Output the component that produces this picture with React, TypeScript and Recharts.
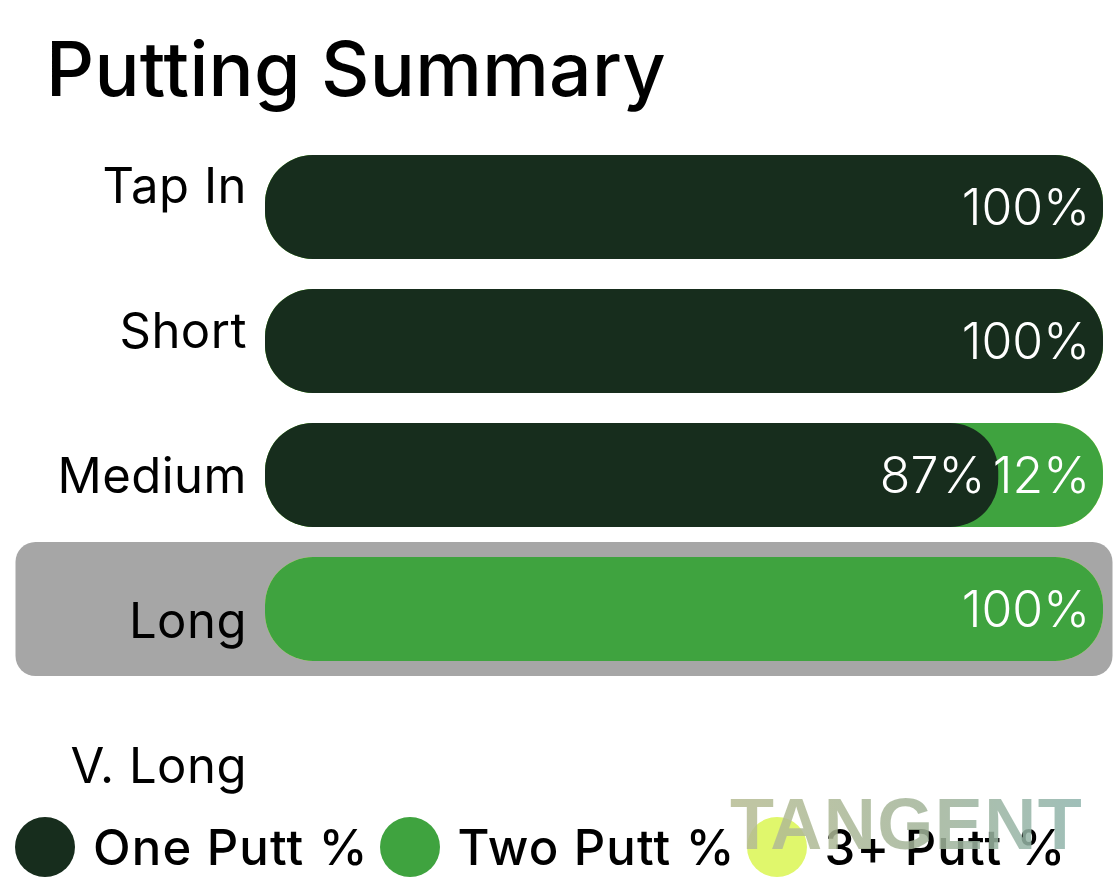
import React from 'react';
import {
    BarChart,
    Bar,
    XAxis,
    YAxis,
    Tooltip,
    LabelList
} from 'recharts';

const categories = ['Tap In', 'Short', 'Medium', 'Long', 'V. Long'];
const onePutt = [100, 100, 87.5, 0, 0];
const twoPutt = [0, 0, 12.5, 100, 0];
const threePutt = [0, 0, 0, 0, 0];

const seriesNames = ['One Putt %', 'Two Putt %', '3+ Putt %'];
const seriesColors = ['#172d1d', '#3fa33f', '#e0f76c'];

// bars overlap from zero, so each later segment is drawn as a running total behind the earlier one
const data = categories.map((name, i) => ({
    name,
    one: onePutt[i],
    two: twoPutt[i],
    three: threePutt[i],
    twoCum: onePutt[i] + twoPutt[i],
    threeCum: onePutt[i] + twoPutt[i] + threePutt[i]
}));

const font = 'Inter, "Noto Sans", sans-serif';

const pct = (v: any) => (Number(v) > 0 ? `${Math.floor(Number(v))}%` : '');

const labelStyle = { fill: '#ffffff', fontSize: 50, fontWeight: 300, fontFamily: font };

// selected row highlight, stretched out to cover the category label too
const HighlightCursor = (props: any) => {
    const { x, y, width, height } = props;
    if (x == null || y == null) return null;
    return <rect x={x - 250} y={y} width={width + 260} height={height} rx={20} ry={20} fill="#a6a6a6" />;
};

const App = () => {
    return (
        <div style={{ position: 'absolute', left: 0, top: 0, width: 1119, height: 886, background: '#fff', fontFamily: font }}>
            <div style={{ position: 'absolute', left: 46, top: 31, fontSize: 75, lineHeight: 1, fontWeight: 500, letterSpacing: 0.3, color: '#000' }}>
                Putting Summary
            </div>

            <BarChart
                width={1119}
                height={886}
                data={data}
                layout="vertical"
                margin={{ top: 113.5, right: 16, left: 0, bottom: 47.5 }}
                barSize={104}
                barGap={-104}
                style={{ position: 'absolute', left: 0, top: 0 }}
            >
                <XAxis type="number" domain={[0, 100]} hide />
                <YAxis type="category" dataKey="name" hide width={0} padding={{ top: 26.5, bottom: 28.5 }} />
                <YAxis
                    yAxisId="labels"
                    type="category"
                    dataKey="name"
                    width={265}
                    axisLine={false}
                    tickLine={false}
                    tickMargin={12}
                    tick={{ fill: '#000', fontSize: 49, fontFamily: font, letterSpacing: 0.5 }}
                />

                <Tooltip
                    defaultIndex={3}
                    active
                    cursor={<HighlightCursor />}
                    content={() => null}
                />

                <Bar dataKey="threeCum" fill={seriesColors[2]} radius={48} isAnimationActive={false}>
                    <LabelList dataKey="three" position="insideRight" offset={13} formatter={pct} style={labelStyle} />
                </Bar>
                <Bar dataKey="twoCum" fill={seriesColors[1]} radius={48} isAnimationActive={false}>
                    <LabelList dataKey="two" position="insideRight" offset={13} formatter={pct} style={labelStyle} />
                </Bar>
                <Bar dataKey="one" fill={seriesColors[0]} radius={48} isAnimationActive={false}>
                    <LabelList dataKey="one" position="insideRight" offset={13} formatter={pct} style={labelStyle} />
                </Bar>
            </BarChart>

            <div style={{ position: 'absolute', left: 15, top: 817, height: 60, display: 'flex', alignItems: 'center' }}>
                {seriesNames.map((n, i) => (
                    <div key={n} style={{ display: 'flex', alignItems: 'center', marginRight: 11 }}>
                        <div style={{ width: 60, height: 60, borderRadius: 30, background: seriesColors[i], marginRight: 18 }} />
                        <span style={{ fontSize: 49, fontWeight: 500, letterSpacing: 1.2, color: '#000' }}>{n}</span>
                    </div>
                ))}
            </div>

            <div
                style={{
                    position: 'absolute',
                    left: 730,
                    top: 788,
                    fontSize: 72,
                    lineHeight: 1,
                    fontWeight: 700,
                    fontFamily: '"Liberation Sans", Arial, sans-serif',
                    letterSpacing: 1.5,
                    background: 'linear-gradient(90deg, #b7bd93, #a3b59a 55%, #8fb5ad)',
                    WebkitBackgroundClip: 'text',
                    backgroundClip: 'text',
                    color: 'transparent',
                    opacity: 0.85
                }}
            >
                TANGENT
            </div>
        </div>
    );
};

export default App;
